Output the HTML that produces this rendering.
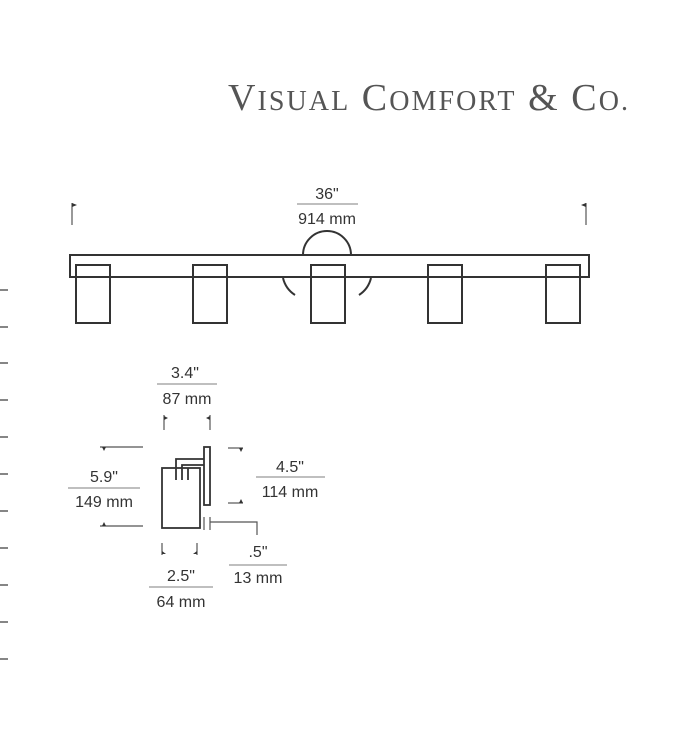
<!DOCTYPE html>
<html><head><style>html,body{margin:0;padding:0;background:#fff;}svg{display:block}</style></head>
<body>
<svg width="678" height="736" viewBox="0 0 678 736" xmlns="http://www.w3.org/2000/svg">
<g stroke="#444" stroke-width="1.3">
<line x1="0" y1="290" x2="8" y2="290"/><line x1="0" y1="327" x2="8" y2="327"/><line x1="0" y1="363" x2="8" y2="363"/><line x1="0" y1="400" x2="8" y2="400"/><line x1="0" y1="437" x2="8" y2="437"/><line x1="0" y1="474" x2="8" y2="474"/><line x1="0" y1="511" x2="8" y2="511"/><line x1="0" y1="548" x2="8" y2="548"/><line x1="0" y1="585" x2="8" y2="585"/><line x1="0" y1="622" x2="8" y2="622"/><line x1="0" y1="659" x2="8" y2="659"/>
</g>
<text x="228" y="110" textLength="400" lengthAdjust="spacing" font-family="Liberation Serif, serif" font-size="38" fill="#555">V<tspan font-size="28">ISUAL</tspan> C<tspan font-size="28">OMFORT</tspan> &amp; C<tspan font-size="28">O.</tspan></text>

<g fill="none" stroke="#333" stroke-width="2">
<path d="M303 255 A24 24 0 0 1 351 255"/>
<path d="M283 278 A28 28 0 0 0 295 295 M371 278 A28 28 0 0 1 359 295"/>
<rect x="70" y="255" width="519" height="22"/>
<rect x="76" y="265" width="34" height="58"/>
<rect x="193" y="265" width="34" height="58"/>
<rect x="311" y="265" width="34" height="58"/>
<rect x="428" y="265" width="34" height="58"/>
<rect x="546" y="265" width="34" height="58"/>
</g>
<g fill="#333" font-family="Liberation Sans, sans-serif" font-size="16" text-anchor="middle">
<text x="327" y="199">36"</text><text x="327" y="224">914 mm</text>
<text x="185" y="378">3.4"</text><text x="187" y="404">87 mm</text>
<text x="104" y="482">5.9"</text><text x="104" y="507">149 mm</text>
<text x="290" y="472">4.5"</text><text x="290" y="497">114 mm</text>
<text x="258" y="557">.5"</text><text x="258" y="583">13 mm</text>
<text x="181" y="581">2.5"</text><text x="181" y="607">64 mm</text>
</g>
<g stroke="#aaa" stroke-width="1.5">
<line x1="297" y1="204" x2="358" y2="204"/>
<line x1="157" y1="384" x2="217" y2="384"/>
<line x1="68" y1="488" x2="140" y2="488"/>
<line x1="256" y1="477" x2="325" y2="477"/>
<line x1="229" y1="565" x2="287" y2="565"/>
<line x1="149" y1="587" x2="213" y2="587"/>
</g>
<g stroke="#555" stroke-width="1.2" fill="none">
<line x1="72" y1="203" x2="72" y2="225"/><line x1="586" y1="203" x2="586" y2="225"/>
<line x1="164" y1="415" x2="164" y2="430"/><line x1="210" y1="415" x2="210" y2="430"/>
<line x1="100" y1="447" x2="143" y2="447"/><line x1="100" y1="526" x2="143" y2="526"/>
<line x1="228" y1="448" x2="243" y2="448"/><line x1="228" y1="503" x2="243" y2="503"/>
<line x1="162" y1="543" x2="162" y2="555"/><line x1="197" y1="543" x2="197" y2="555"/>
<path d="M210 522 H257 V535"/><line x1="204" y1="517" x2="204" y2="530"/><line x1="210" y1="517" x2="210" y2="530"/>
</g>
<g fill="#333">
<path d="M72 203 l5 2 l-5 2z"/><path d="M586 203 l-5 2 l5 2z"/>
<path d="M164 416 l4 2 l-4 2z"/><path d="M210 416 l-4 2 l4 2z"/>
<path d="M102 447 l4 0 l-2 4z"/><path d="M102 526 l4 0 l-2 -4z"/>
<path d="M239 448 l4 0 l-2 4z"/><path d="M239 503 l4 0 l-2 -4z"/>
<path d="M162 554 l4 0 l-4 -3z"/><path d="M197 554 l-4 0 l4 -3z"/>
</g>
<g fill="none" stroke="#333" stroke-width="1.8">
<rect x="204" y="447" width="6" height="58"/>
<rect x="162" y="468" width="38" height="60"/>
<path d="M176 480 V459 H204 M182 480 V465 H204 M176 468 V480 M188 468 V480"/>
</g>
</svg>
</body></html>
